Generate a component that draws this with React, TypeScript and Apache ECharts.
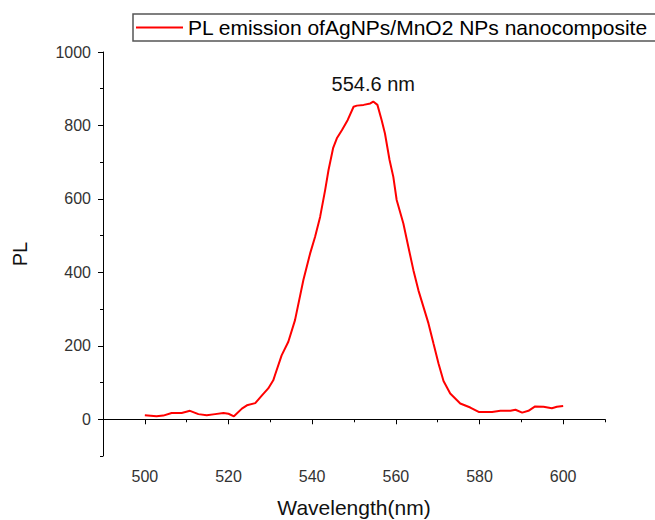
import React, { useEffect, useRef } from "react";
import * as echarts from "echarts";

const wavelength = [
  500, 502.8, 504.4, 506.4, 508.8, 510.8, 512.8, 514.8, 516.8, 518.8, 520, 521.3, 523.2, 524.4, 526.4, 528,
  529.5, 530.7, 531.1, 532.7, 534.3, 535.9, 537.9, 539.5, 540.7, 541.9, 543.1, 543.9, 545, 545.9, 547.1, 548.5,
  549.9, 550.7, 552.3, 553.9, 554.6, 555.6, 556.6, 557.4, 558.5, 559.4, 560.2, 561.8, 563, 564.2, 565.4, 566.6,
  567.8, 569, 570.2, 571.4, 573, 575.4, 577.8, 579.8, 583, 585, 587.4, 588.6, 590.2, 591.7, 593.3, 595.3,
  597.3, 598.5, 600,
];
const intensity = [
  11, 8, 10, 17, 17, 23, 14, 11, 14, 17, 15, 8, 29, 38, 44, 65,
  84, 106, 120, 174, 211, 270, 379, 451, 497, 551, 624, 678, 738, 765, 787, 815,
  851, 854, 856, 860, 865, 856, 815, 778, 706, 660, 597, 533, 469, 406, 351, 306,
  261, 206, 152, 104, 70, 43, 32, 20, 20, 23, 23, 26, 18, 23, 35, 34,
  30, 34, 36,
];
const xLabelValues = [500, 520, 540, 560, 580, 600];
const xMinorValues = [490, 510, 530, 550, 570, 590, 610];
const yLabelValues = [0, 200, 400, 600, 800, 1000];
const yMinorValues = [-100, 100, 300, 500, 700, 900];
const seriesName = "PL emission ofAgNPs/MnO2 NPs nanocomposite";
const peakLabel = "554.6 nm";
const peakX = 554.6;
const peakY = 865;

const FONT = "'Liberation Sans', Arial, sans-serif";

export default function App() {
  const ref = useRef<HTMLDivElement>(null);
  useEffect(() => {
    const chart = echarts.init(ref.current!, null, { renderer: "svg" });
    const data = wavelength.map((w, i) => [w, intensity[i]]);
    chart.setOption({
      animation: false,
      backgroundColor: "#fff",
      textStyle: { fontFamily: FONT },
      grid: { left: 103, right: 50, top: 52, bottom: 64, containLabel: false, outerBoundsMode: "none" },
      legend: {
        left: 133,
        top: 14,
        data: [{ name: seriesName, icon: "rect" }],
        itemWidth: 47,
        itemHeight: 2,
        itemGap: 6,
        padding: [3, 16, 3, 3],
        borderColor: "#555",
        borderWidth: 1.5,
        borderRadius: 0,
        textStyle: { fontSize: 21, color: "#000", fontFamily: FONT },
      },
      xAxis: [
        {
          type: "value",
          min: 490,
          max: 610,
          name: "Wavelength(nm)",
          nameLocation: "middle",
          nameGap: 41,
          nameTextStyle: { fontSize: 21, color: "#111", fontFamily: FONT },
          axisLine: { show: true, lineStyle: { color: "#000", width: 1 } },
          axisTick: { show: true, length: 5, customValues: xLabelValues, lineStyle: { color: "#000" } },
          axisLabel: { customValues: xLabelValues, fontSize: 16, color: "#333", margin: 12, fontFamily: FONT },
          splitLine: { show: false },
        },
        {
          type: "value",
          position: "bottom",
          min: 490,
          max: 610,
          axisLine: { show: false },
          axisTick: { show: true, length: 3, customValues: xMinorValues, lineStyle: { color: "#000" } },
          axisLabel: { show: false },
          splitLine: { show: false },
        },
      ],
      yAxis: [
        {
          type: "value",
          min: -100,
          max: 1000,
          name: "PL",
          nameLocation: "middle",
          nameGap: 73,
          nameTextStyle: { fontSize: 20, color: "#111", fontFamily: FONT },
          axisLine: { show: true, lineStyle: { color: "#000", width: 1 } },
          axisTick: { show: true, length: 5, customValues: yLabelValues, lineStyle: { color: "#000" } },
          axisLabel: {
            customValues: yLabelValues,
            fontSize: 16,
            color: "#333",
            margin: 12,
            fontFamily: FONT,
            formatter: (v: number) => String(v),
          },
          splitLine: { show: false },
        },
        {
          type: "value",
          position: "left",
          min: -100,
          max: 1000,
          axisLine: { show: false },
          axisTick: { show: true, length: 3, customValues: yMinorValues, lineStyle: { color: "#000" } },
          axisLabel: { show: false },
          splitLine: { show: false },
        },
      ],
      series: [
        {
          name: seriesName,
          type: "line",
          xAxisIndex: 0,
          yAxisIndex: 0,
          data,
          symbol: "none",
          showSymbol: false,
          lineStyle: { color: "#ff0000", width: 2 },
          itemStyle: { color: "#ff0000" },
          markPoint: {
            symbol: "circle",
            symbolSize: 0,
            silent: true,
            data: [{ coord: [peakX, peakY] }],
            label: {
              show: true,
              position: "top",
              distance: 8,
              formatter: peakLabel,
              fontSize: 20,
              color: "#111",
              fontFamily: FONT,
            },
          },
        },
      ],
    });
    return () => chart.dispose();
  }, []);
  return (
    <div
      ref={ref}
      style={{ position: "absolute", left: 0, top: 0, width: 655, height: 520 }}
    />
  );
}
